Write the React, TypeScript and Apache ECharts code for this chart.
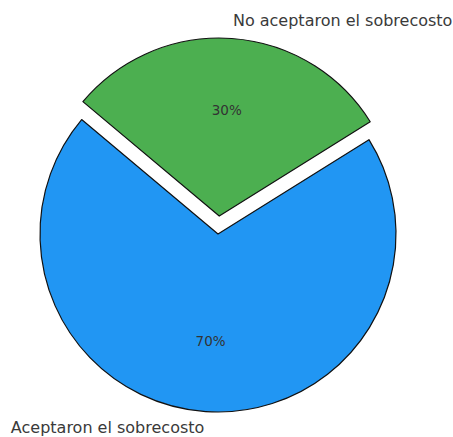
import React, { useEffect, useRef } from "react";
import * as echarts from "echarts";

const categories = ["Aceptaron el sobrecosto", "No aceptaron el sobrecosto"];
const values = [70, 30];
const colors = ["#2196F3", "#4CAF50"];
const exploded = [false, true];

const W = 453;
const H = 437;
const CX = 218;
const CY = 234;
const R = 178;
const START = 140;
const OFFSET = 18;

function midAngle(i: number): number {
  const total = values.reduce((a, b) => a + b, 0);
  let acc = 0;
  for (let k = 0; k < i; k++) acc += values[k];
  return START + ((acc + values[i] / 2) / total) * 360;
}

function centerOf(i: number) {
  const a = (midAngle(i) * Math.PI) / 180;
  const off = exploded[i] ? OFFSET : 0;
  return { x: CX + off * Math.cos(a), y: CY - off * Math.sin(a), a };
}

function labelSeries(kind: "name" | "pct") {
  const fontSize = kind === "name" ? 16 : 13.5;
  return {
    type: "pie",
    center: [CX, CY],
    radius: R,
    startAngle: START,
    clockwise: false,
    silent: true,
    z: 5,
    avoidLabelOverlap: false,
    itemStyle: { color: "transparent", borderWidth: 0 },
    label: {
      show: true,
      position: kind === "name" ? "outside" : "inside",
      formatter: kind === "name" ? "{b}" : "{d}%",
      overflow: "none",
      fontFamily: "DejaVu Sans",
      fontSize,
      color: kind === "name" ? "#3a3a3a" : "#333",
    },
    labelLine: { show: false },
    labelLayout: (p: any) => {
      const c = centerOf(p.dataIndex);
      const f = kind === "name" ? 1.1 : 0.6;
      const y = c.y - f * R * Math.sin(c.a);
      return {
        x: c.x + f * R * Math.cos(c.a),
        y: Math.min(y, H - fontSize * 0.62),
        align: kind === "name" ? (Math.cos(c.a) >= 0 ? "left" : "right") : "center",
        verticalAlign: "middle",
      };
    },
    data: categories.map((name, i) => ({ name, value: values[i] })),
  };
}

export default function App() {
  const ref = useRef<HTMLDivElement>(null);
  useEffect(() => {
    if (!ref.current) return;
    const chart = echarts.init(ref.current, null, { renderer: "svg" });
    chart.setOption({
      animation: false,
      series: [
        {
          type: "pie",
          center: [CX, CY],
          radius: R,
          startAngle: START,
          clockwise: false,
          selectedMode: "multiple",
          selectedOffset: OFFSET,
          silent: true,
          itemStyle: { borderColor: "#111", borderWidth: 1.2 },
          label: { show: false },
          labelLine: { show: false },
          data: categories.map((name, i) => ({
            name,
            value: values[i],
            selected: exploded[i],
            itemStyle: { color: colors[i] },
          })),
        },
        labelSeries("name"),
        labelSeries("pct"),
      ],
    });
    return () => chart.dispose();
  }, []);
  return (
    <div
      ref={ref}
      style={{ position: "fixed", left: 0, top: 0, width: W, height: H, background: "#fff" }}
    />
  );
}
